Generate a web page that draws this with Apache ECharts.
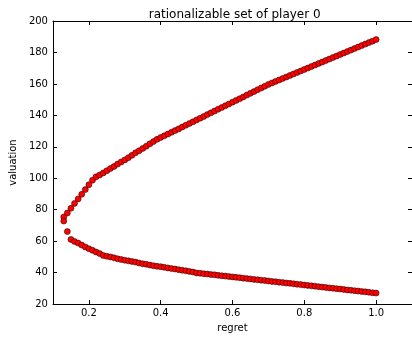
<!DOCTYPE html>
<html>
<head>
<meta charset="utf-8">
<script src="https://cdn.jsdelivr.net/npm/echarts@6/dist/echarts.min.js"></script>
<style>html,body{margin:0;padding:0;background:#fff}#c{width:412px;height:338px}</style>
</head>
<body>
<div id="c"></div>
<script>
const regret = [0.13,0.14,0.15,0.16,0.17,0.18,0.19,0.20,0.21,0.22,0.23,0.24,0.25,0.26,0.27,0.28,0.29,0.30,
  0.31,0.32,0.33,0.34,0.35,0.36,0.37,0.38,0.39,0.40,0.41,0.42,0.43,0.44,0.45,0.46,0.47,0.48,0.49,0.50,
  0.51,0.52,0.53,0.54,0.55,0.56,0.57,0.58,0.59,0.60,0.61,0.62,0.63,0.64,0.65,0.66,0.67,0.68,0.69,0.70,
  0.71,0.72,0.73,0.74,0.75,0.76,0.77,0.78,0.79,0.80,0.81,0.82,0.83,0.84,0.85,0.86,0.87,0.88,0.89,0.90,
  0.91,0.92,0.93,0.94,0.95,0.96,0.97,0.98,0.99,1.00];
const upperValuation = [75.4,77.9,80.9,84.0,86.9,89.8,92.8,95.9,98.8,100.9,102.1,103.4,104.8,106.2,107.5,109.0,110.4,111.7,
  113.1,114.6,116.2,117.5,119.0,120.4,121.9,123.4,124.8,125.9,127.0,128.1,129.2,130.3,131.4,132.6,133.7,134.8,135.9,137.1,
  138.2,139.3,140.5,141.6,142.7,143.9,145.0,146.1,147.2,148.4,149.5,150.6,151.7,152.9,154.0,155.1,156.3,157.4,158.5,159.7,
  160.6,161.6,162.5,163.5,164.4,165.4,166.3,167.3,168.2,169.2,170.1,171.1,172.0,173.0,173.9,174.9,175.8,176.8,177.7,178.7,
  179.6,180.6,181.5,182.5,183.4,184.4,185.3,186.3,187.2,188.2];
const lowerValuation = [72.8,66.1,61.1,59.8,58.8,57.5,56.3,55.2,54.2,53.1,52.1,50.9,50.4,50.0,49.4,48.8,48.4,47.9,
  47.5,47.1,46.7,46.1,45.6,45.3,44.8,44.4,44.0,43.8,43.4,43.0,42.6,42.3,41.9,41.5,41.2,40.8,40.4,39.8,
  39.6,39.3,39.1,38.8,38.6,38.3,38.0,37.8,37.5,37.3,37.0,36.8,36.5,36.2,36.0,35.7,35.5,35.2,35.0,34.7,
  34.4,34.2,33.9,33.7,33.4,33.2,32.9,32.6,32.4,32.1,31.9,31.6,31.4,31.1,30.8,30.6,30.3,30.1,29.8,29.6,
  29.3,29.0,28.8,28.5,28.3,28.0,27.8,27.5,27.2,27.0];
const xTicks = [0.2,0.4,0.6,0.8,1.0];
const yTicks = [20,40,60,80,100,120,140,160,180,200];
const titleText = 'rationalizable set of player 0';

const points = [];
for (let i = 0; i < regret.length; i++) {
  points.push([regret[i], upperValuation[i]]);
  points.push([regret[i], lowerValuation[i]]);
}
const font = 'DejaVu Sans';
const lineStyle = {color:'#000', width:1};
const chart = echarts.init(document.getElementById('c'), null, {renderer:'canvas'});
chart.setOption({
  animation:false,
  backgroundColor:'#fff',
  title:{text:titleText, left:229.7, top:4, textAlign:'center',
    textStyle:{fontFamily:font, fontSize:12, fontWeight:'normal', color:'#000'}},
  grid:{left:44, right:-3.5, top:21, bottom:29, containLabel:false},
  xAxis:[
    {type:'value', position:'bottom', min:0.1, max:1.1,
     name:'regret', nameLocation:'middle', nameGap:15,
     nameTextStyle:{fontFamily:font, fontSize:10, color:'#000'},
     axisLine:{show:true, onZero:false, lineStyle},
     axisTick:{show:true, inside:true, length:4, customValues:xTicks, lineStyle},
     axisLabel:{show:true, margin:4, fontFamily:font, fontSize:10, color:'#000', customValues:xTicks,
       formatter:v=>v.toFixed(1)},
     splitLine:{show:false}},
    {type:'value', position:'top', min:0.1, max:1.1,
     axisLine:{show:true, onZero:false, lineStyle},
     axisTick:{show:true, inside:true, length:4, customValues:xTicks, lineStyle},
     axisLabel:{show:false}, splitLine:{show:false}}
  ],
  yAxis:[
    {type:'value', position:'left', min:20, max:200, interval:20,
     name:'valuation', nameLocation:'middle', nameGap:26,
     nameTextStyle:{fontFamily:font, fontSize:10, color:'#000'},
     axisLine:{show:true, onZero:false, lineStyle},
     axisTick:{show:true, inside:true, length:4, lineStyle},
     axisLabel:{show:true, margin:5, fontFamily:font, fontSize:10, color:'#000'},
     splitLine:{show:false}},
    {type:'value', position:'right', min:20, max:200, interval:20,
     axisLine:{show:true, onZero:false, lineStyle},
     axisTick:{show:true, inside:true, length:4, lineStyle},
     axisLabel:{show:false}, splitLine:{show:false}}
  ],
  series:[{
    type:'scatter', xAxisIndex:0, yAxisIndex:0, data:points,
    symbol:'circle', symbolSize:6,
    itemStyle:{color:'#ff0000', borderColor:'#000', borderWidth:0.5, opacity:1}
  }]
});
</script>
</body>
</html>
